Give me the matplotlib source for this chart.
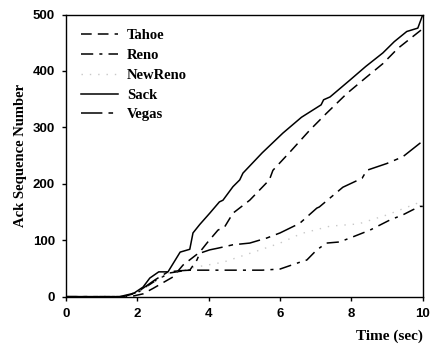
import matplotlib
matplotlib.use('Agg')
import matplotlib.pyplot as plt

# ack sequence number vs time for each TCP variant
sack_t = [0, 1.5, 1.9, 2.16, 2.35, 2.6, 2.86, 3.2, 3.47, 3.56, 3.75, 4.03, 4.3, 4.4, 4.68, 4.87,
          4.96, 5.5, 6.08, 6.6, 7.15, 7.22, 7.4, 7.96, 8.4, 8.88, 9.2, 9.55, 9.86, 10]
sack_y = [0, 0, 6, 17, 33, 44, 44, 79, 84, 113, 128, 148, 168, 171, 195, 207,
          219, 255, 290, 318, 340, 349, 354, 384, 408, 432, 452, 470, 476, 500]

tahoe_t = [0, 1.8, 2.16, 2.45, 3.0, 3.28, 3.75, 3.95, 4.26, 4.45, 4.68, 5.15, 5.7, 5.8,
           6.3, 6.83, 7.3, 7.87, 8.4, 8.88, 9.3, 9.72, 10]
tahoe_y = [0, 0, 5, 15, 35, 56, 79, 95, 118, 124, 148, 171, 207, 224,
           258, 295, 325, 360, 388, 413, 440, 461, 475]

reno_t = [0, 1.6, 2.0, 2.5, 2.9, 3.3, 3.47, 4.5, 5.5, 6.0, 6.55, 6.75, 7.03, 7.3, 7.67,
          8.04, 8.52, 9.08, 9.44, 9.72, 9.92, 10]
reno_y = [0, 0, 7, 28, 42, 46, 47, 47, 47, 49, 61, 65, 83, 95, 97,
          106, 118, 136, 145, 154, 160, 160]

newreno_t = [0, 1.6, 2.2, 2.8, 3.3, 3.6, 4.4, 5.4, 6.0, 6.6, 7.4, 8.2, 9.0, 9.86, 10]
newreno_y = [0, 0, 15, 40, 47, 52, 61, 82, 95, 112, 125, 129, 145, 166, 168]

vegas_t = [0, 1.6, 2.0, 2.5, 2.86, 3.2, 3.47, 3.67, 3.75, 4.03, 4.26, 4.68, 5.15, 5.63,
           6.0, 6.55, 7.03, 7.1, 7.76, 8.3, 8.43, 8.99, 9.44, 9.92, 10]
vegas_y = [0, 0, 8, 30, 44, 46, 47, 65, 77, 83, 86, 92, 95, 104,
           113, 130, 157, 159, 194, 210, 224, 236, 248, 272, 275]

x_ticks = [0, 2, 4, 6, 8, 10]
y_ticks = [0, 100, 200, 300, 400, 500]

serif = {'family': 'Liberation Serif', 'weight': 'bold'}


def main():
    fig = plt.figure(figsize=(4.31, 3.47), dpi=100)
    ax = fig.add_axes([0.153, 0.145, 0.828, 0.813])

    ax.plot(tahoe_t, tahoe_y, color='black', lw=1.1, ls=(0, (7, 4)), label='Tahoe')
    ax.plot(reno_t, reno_y, color='black', lw=1.1, ls=(0, (8, 4, 2, 4)), label='Reno')
    ax.plot(newreno_t, newreno_y, color='#c8c8c8', lw=1.0, ls=(0, (1, 5)), label='NewReno')
    ax.plot(sack_t, sack_y, color='black', lw=1.1, label='Sack')
    ax.plot(vegas_t, vegas_y, color='black', lw=1.1, ls=(0, (14, 4, 3, 4)), label='Vegas')

    ax.set_xlim(0, 10)
    ax.set_ylim(0, 500)
    ax.set_xticks(x_ticks)
    ax.set_yticks(y_ticks)
    ax.tick_params(direction='out', length=3, width=1, pad=5)
    for lab in ax.get_xticklabels() + ax.get_yticklabels():
        lab.set_fontfamily('Liberation Sans')
        lab.set_fontweight('bold')
        lab.set_fontsize(9.5)
    for sp in ax.spines.values():
        sp.set_linewidth(1.0)

    ax.set_ylabel('Ack Sequence Number', fontdict=serif, fontsize=10.5, labelpad=4)
    ax.text(1.0, -0.14, 'Time (sec)', transform=ax.transAxes, ha='right', va='center',
            fontdict=serif, fontsize=11)

    ax.legend(loc='upper left', frameon=False, handlelength=2.6, handletextpad=0.6,
              labelspacing=0.45, borderaxespad=0.6,
              prop={'family': 'Liberation Serif', 'weight': 'bold', 'size': 10.5})

    fig.savefig('out.png', dpi=100)


if __name__ == '__main__':
    main()
